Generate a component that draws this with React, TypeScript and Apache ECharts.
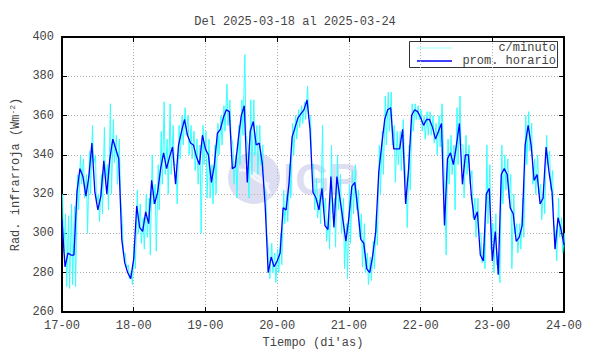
import React, { useEffect, useRef } from "react";
import * as echarts from "echarts";

const titleText = "Del 2025-03-18 al 2025-03-24";
const xName = "Tiempo (di'as)";
const dayLabels = ["17-00", "18-00", "19-00", "20-00", "21-00", "22-00", "23-00", "24-00"];
const legendNames = ["c/minuto", "prom. horario"];

// hourly mean (one value per hour from 17-00 to 24-00)
const hourlyAvg = [
  307, 283, 290, 289, 289, 321, 333, 329, 319, 329, 346, 321, 312, 319, 337, 320, 338, 348, 343, 338,
  297, 285, 280, 277, 287, 314, 303, 301, 311, 305, 327, 315, 321, 333, 341, 333, 339, 344, 325, 345,
  352, 358, 350, 346, 345, 339, 335, 350, 343, 340, 326, 335, 351, 353, 359, 363, 362, 333, 334, 348,
  360, 365, 326, 352, 357, 345, 346, 336, 314, 280, 288, 283, 286, 290, 313, 312, 326, 349, 354, 359,
  361, 363, 368, 353, 321, 318, 312, 323, 304, 302, 329, 303, 329, 318, 307, 296, 308, 324, 326, 312,
  297, 295, 282, 280, 289, 301, 331, 345, 358, 363, 364, 343, 343, 343, 353, 315, 333, 360, 363, 362,
  359, 355, 358, 358, 354, 348, 352, 356, 304, 338, 341, 335, 345, 356, 325, 340, 340, 319, 307, 311,
  289, 286, 320, 323, 286, 301, 279, 330, 333, 330, 313, 310, 296, 298, 304, 345, 355, 345, 327, 330,
  315, 318, 344, 331, 321, 292, 308, 302, 294,
];

// per-minute readings: highest and lowest value seen within each hour
const minuteHi = [
  320, 310, 309, 315, 314, 330, 340, 338, 330, 342, 355, 340, 320, 330, 354, 335, 366, 358, 350, 348,
  305, 290, 284, 281, 295, 322, 315, 308, 320, 318, 340, 325, 335, 352, 367, 348, 366, 355, 335, 355,
  360, 364, 360, 355, 352, 348, 345, 355, 352, 348, 335, 345, 356, 360, 365, 376, 368, 345, 340, 355,
  368, 391, 345, 368, 368, 355, 355, 345, 320, 290, 295, 290, 292, 300, 322, 320, 335, 356, 360, 363,
  365, 367, 375, 360, 335, 328, 320, 355, 318, 310, 345, 318, 340, 330, 318, 305, 325, 332, 335, 322,
  310, 305, 290, 288, 296, 310, 345, 352, 370, 372, 372, 355, 352, 352, 358, 325, 345, 366, 366, 365,
  363, 360, 362, 362, 360, 356, 360, 366, 318, 348, 350, 345, 364, 370, 345, 350, 345, 332, 318, 318,
  300, 295, 345, 335, 305, 310, 290, 345, 340, 338, 330, 320, 305, 305, 318, 360, 362, 356, 338, 340,
  325, 325, 350, 342, 332, 300, 318, 308, 300,
];
const minuteLo = [
  290, 273, 272, 274, 273, 312, 325, 318, 300, 320, 335, 315, 306, 310, 325, 312, 320, 336, 325, 320,
  290, 282, 277, 274, 282, 300, 295, 292, 298, 289, 315, 291, 312, 325, 330, 320, 330, 335, 315, 338,
  345, 350, 340, 338, 332, 325, 300, 335, 318, 318, 315, 320, 340, 345, 352, 355, 350, 325, 318, 335,
  350, 350, 318, 330, 340, 330, 335, 325, 300, 277, 280, 275, 280, 284, 305, 306, 318, 340, 348, 354,
  356, 358, 360, 335, 312, 308, 305, 310, 296, 292, 310, 293, 312, 300, 282, 277, 295, 310, 312, 298,
  283, 280, 274, 276, 282, 294, 320, 330, 345, 352, 345, 326, 335, 332, 340, 303, 322, 352, 358, 358,
  352, 348, 350, 350, 346, 340, 344, 348, 289, 325, 330, 312, 335, 345, 318, 330, 325, 308, 298, 300,
  285, 282, 305, 292, 280, 284, 275, 315, 322, 318, 282, 300, 290, 292, 298, 335, 342, 325, 320, 320,
  307, 310, 335, 322, 305, 286, 298, 290, 288,
];

const FONT = "'Liberation Mono', 'DejaVu Sans Mono', monospace";
const TXT = "#444444";
const WM = "#dedef3";

export default function App() {
  const ref = useRef<HTMLDivElement>(null);
  useEffect(() => {
    if (!ref.current) return;
    const chart = echarts.init(ref.current, undefined, { renderer: "svg" });

    const avgData = hourlyAvg.map((v, i) => [i, v]);
    const minuteData: number[][] = [];
    minuteHi.forEach((hi, i) => {
      minuteData.push([i + 0.2, hi]);
      minuteData.push([i + 0.55, minuteLo[i]]);
    });

    const baseX = {
      type: "value",
      min: 0,
      max: 168,
      interval: 24,
      axisLine: { show: true, onZero: false, lineStyle: { color: "#000", width: 2 } },
      axisTick: { show: true, inside: true, length: 5, lineStyle: { color: "#000", width: 1 } },
    };
    const baseY = {
      type: "value",
      min: 260,
      max: 400,
      interval: 20,
      axisLine: { show: true, onZero: false, lineStyle: { color: "#000", width: 2 } },
      axisTick: { show: true, inside: true, length: 5, lineStyle: { color: "#000", width: 1 } },
    };

    chart.setOption({
      animation: false,
      backgroundColor: "#ffffff",
      title: {
        text: titleText,
        left: "center",
        top: 11,
        textStyle: { fontFamily: FONT, fontSize: 12, fontWeight: "normal", color: TXT },
      },
      grid: { left: 54, right: 26, top: 37, bottom: 40 },
      xAxis: [
        {
          ...baseX,
          position: "bottom",
          name: xName,
          nameLocation: "middle",
          nameGap: 25,
          nameTextStyle: { fontFamily: FONT, fontSize: 12, color: TXT },
          axisLabel: {
            fontFamily: FONT,
            fontSize: 12,
            color: TXT,
            margin: 8,
            formatter: (v: number) => dayLabels[Math.round(v / 24)] ?? "",
          },
          splitLine: { show: true, lineStyle: { type: [1, 2], color: "#b4b4b4", width: 1 } },
        },
        {
          ...baseX,
          position: "top",
          axisLabel: { show: false },
          splitLine: { show: false },
        },
      ],
      yAxis: [
        {
          ...baseY,
          position: "left",
          name: "{a|Rad. infrarroja (Wm}{s|-2}{a|)}",
          nameLocation: "middle",
          nameGap: 39,
          nameRotate: 90,
          nameTextStyle: {
            rich: {
              a: { fontFamily: FONT, fontSize: 12, color: TXT },
              s: { fontFamily: FONT, fontSize: 8, color: TXT, padding: [0, 0, 7, 0] },
            },
          },
          axisLabel: { fontFamily: FONT, fontSize: 12, color: TXT, margin: 8 },
          splitLine: { show: true, lineStyle: { type: [1, 2], color: "#b4b4b4", width: 1 } },
        },
        {
          ...baseY,
          position: "right",
          axisLabel: { show: false },
          splitLine: { show: false },
        },
      ],
      graphic: [
        {
          type: "group",
          silent: true,
          z: 0,
          children: [
            { type: "circle", shape: { cx: 254, cy: 178, r: 26 }, style: { fill: WM } },
            { type: "arc", shape: { cx: 240, cy: 200, r: 30, startAngle: -1.6, endAngle: -0.2 }, style: { stroke: "#f4f4fb", lineWidth: 3, fill: "none" } },
            { type: "arc", shape: { cx: 270, cy: 160, r: 24, startAngle: 1.6, endAngle: 3.0 }, style: { stroke: "#f4f4fb", lineWidth: 3, fill: "none" } },
            {
              type: "text",
              x: 283,
              y: 179,
              style: {
                text: "IGP",
                font: "bold 44px 'Liberation Sans', Arial, sans-serif",
                fill: WM,
                verticalAlign: "middle",
                align: "left",
              },
            },
          ],
        },
        {
          type: "group",
          z: 10,
          children: [
            { type: "rect", shape: { x: 409.5, y: 41.5, width: 148, height: 26 }, style: { fill: "#fff", stroke: "#333", lineWidth: 1 } },
            { type: "line", shape: { x1: 417, y1: 48, x2: 452, y2: 48 }, style: { stroke: "#99ffff", lineWidth: 1 } },
            { type: "line", shape: { x1: 417, y1: 61, x2: 452, y2: 61 }, style: { stroke: "#0000ff", lineWidth: 1.3 } },
            { type: "text", x: 556, y: 48, style: { text: legendNames[0], font: "12px " + FONT, fill: TXT, align: "right", verticalAlign: "middle" } },
            { type: "text", x: 556, y: 61, style: { text: legendNames[1], font: "12px " + FONT, fill: TXT, align: "right", verticalAlign: "middle" } },
          ],
        },
      ],
      series: [
        {
          name: legendNames[0],
          type: "line",
          data: minuteData,
          showSymbol: false,
          symbol: "none",
          z: 2,
          lineStyle: { color: "#33ffff", width: 1 },
        },
        {
          name: legendNames[1],
          type: "line",
          data: avgData,
          showSymbol: false,
          symbol: "none",
          z: 3,
          lineStyle: { color: "#0000ff", width: 1.3 },
        },
      ],
    });
    return () => chart.dispose();
  }, []);
  return <div ref={ref} style={{ width: 590, height: 354, position: "absolute", left: 0, top: 0 }} />;
}
